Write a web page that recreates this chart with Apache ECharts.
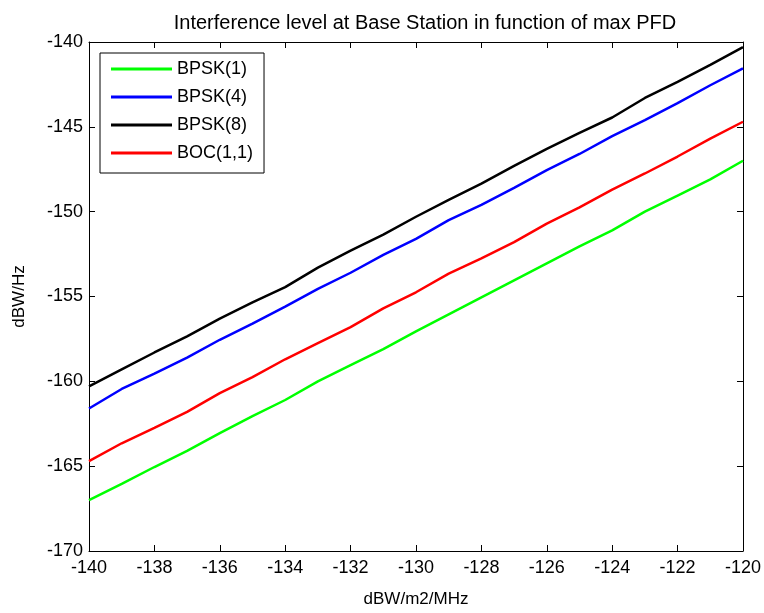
<!DOCTYPE html>
<html>
<head>
<meta charset="utf-8">
<script src="https://cdn.jsdelivr.net/npm/echarts@6/dist/echarts.min.js"></script>
<style>html,body{margin:0;padding:0;background:#fff}#c{width:764px;height:613px}</style>
</head>
<body>
<div id="c"></div>
<script>
var xValues = [-140,-139,-138,-137,-136,-135,-134,-133,-132,-131,-130,-129,-128,-127,-126,-125,-124,-123,-122,-121,-120];
var bpsk1 = [-167.0,-166.05,-165.05,-164.1,-163.05,-162.05,-161.1,-160.0,-159.05,-158.1,-157.05,-156.05,-155.05,-154.05,-153.05,-152.05,-151.1,-150.0,-149.05,-148.1,-147.0];
var bpsk4 = [-161.6,-160.45,-159.55,-158.6,-157.55,-156.6,-155.6,-154.55,-153.6,-152.55,-151.6,-150.5,-149.6,-148.6,-147.55,-146.6,-145.55,-144.6,-143.6,-142.55,-141.55];
var bpsk8 = [-160.3,-159.3,-158.3,-157.35,-156.3,-155.35,-154.45,-153.3,-152.3,-151.35,-150.3,-149.3,-148.35,-147.3,-146.3,-145.35,-144.45,-143.3,-142.35,-141.35,-140.3];
var boc11 = [-164.7,-163.65,-162.75,-161.8,-160.7,-159.75,-158.7,-157.75,-156.8,-155.7,-154.75,-153.65,-152.75,-151.8,-150.7,-149.75,-148.7,-147.75,-146.75,-145.7,-144.7];
var seriesNames = ['BPSK(1)','BPSK(4)','BPSK(8)','BOC(1,1)'];
var seriesColors = ['#00ff00','#0000ff','#000000','#ff0000'];
var seriesData = [bpsk1,bpsk4,bpsk8,boc11];

var FONT = 'Liberation Sans, Arial, sans-serif';
function pairs(ys){ return xValues.map(function(x,i){return [x, ys[i]];}); }

var chart = echarts.init(document.getElementById('c'));
var axisBase = {
  axisLine:{show:true,lineStyle:{color:'#000',width:1}},
  axisTick:{show:true,inside:true,length:6,lineStyle:{color:'#000'}},
  splitLine:{show:false}
};
chart.setOption({
  animation:false,
  backgroundColor:'#fff',
  title:{text:'Interference level at Base Station in function of max PFD',left:420,textAlign:'center',top:8,
    textStyle:{fontFamily:FONT,fontSize:20,fontWeight:'normal',color:'#000'}},
  grid:{left:89,right:19,top:42,bottom:56,containLabel:false},
  legend:{orient:'vertical',left:100,top:53,padding:[7,11,11,11],itemGap:10,itemWidth:61,itemHeight:3,
    icon:'rect',
    backgroundColor:'#fff',borderColor:'#000',borderWidth:1,borderRadius:0,
    textStyle:{fontFamily:FONT,fontSize:18,color:'#000',lineHeight:18},
    data:seriesNames},
  xAxis:[
    Object.assign({type:'value',min:-140,max:-120,interval:2,position:'bottom',
      name:'dBW/m2/MHz',nameLocation:'middle',nameGap:40,
      nameTextStyle:{fontFamily:FONT,fontSize:17,color:'#000'},
      axisLabel:{fontFamily:FONT,fontSize:18,color:'#000',margin:8}},axisBase),
    Object.assign({type:'value',min:-140,max:-120,interval:2,position:'top',axisLabel:{show:false}},axisBase)
  ],
  yAxis:[
    Object.assign({type:'value',min:-170,max:-140,interval:5,position:'left',
      name:'dBW/Hz',nameLocation:'middle',nameGap:61,
      nameTextStyle:{fontFamily:FONT,fontSize:17,color:'#000'},
      axisLabel:{fontFamily:FONT,fontSize:18,color:'#000',margin:6}},axisBase),
    Object.assign({type:'value',min:-170,max:-140,interval:5,position:'right',axisLabel:{show:false}},axisBase)
  ],
  series:seriesNames.map(function(n,i){
    return {name:n,type:'line',xAxisIndex:0,yAxisIndex:0,data:pairs(seriesData[i]),showSymbol:false,symbol:'none',
      color:seriesColors[i],lineStyle:{color:seriesColors[i],width:2.5}};
  })
});
</script>
</body>
</html>
